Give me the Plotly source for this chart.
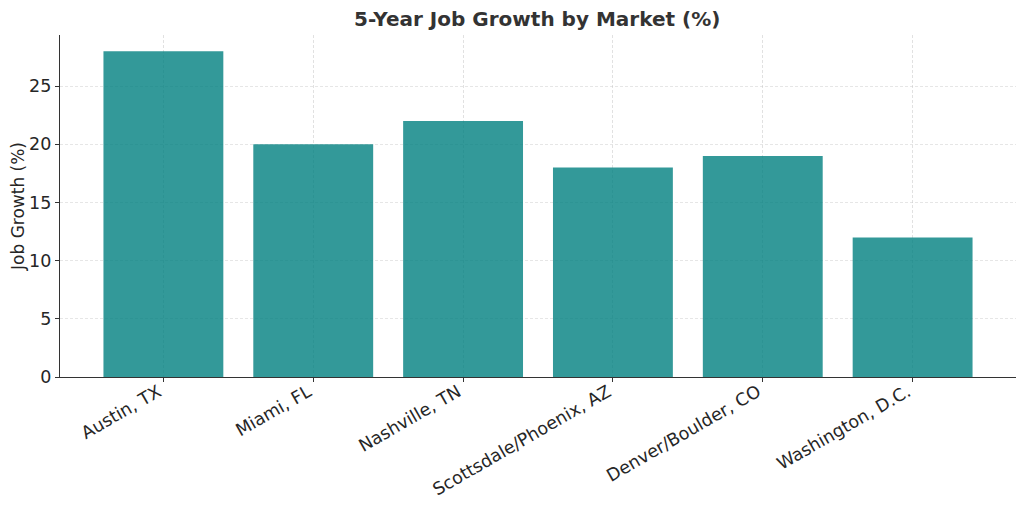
import plotly.graph_objects as go

markets = ["Austin, TX", "Miami, FL", "Nashville, TN", "Scottsdale/Phoenix, AZ",
           "Denver/Boulder, CO", "Washington, D.C."]
growth = [28, 20, 22, 18, 19, 12]
yticks = [0, 5, 10, 15, 20, 25]

fig = go.Figure(go.Bar(
    x=list(range(len(markets))), y=growth,
    marker=dict(color="rgba(0,128,128,0.8)", line=dict(width=0)),
    width=0.8,
))

font = "DejaVu Sans"
fig.update_layout(
    width=1008, height=491,
    margin=dict(l=52, r=0, t=27, b=122),
    paper_bgcolor="white", plot_bgcolor="white",
    title=dict(text="<b>5-Year Job Growth by Market (%)</b>", x=0.525, xanchor="center",
               y=0.978, yanchor="middle",
               font=dict(family=font, size=20, color="#333333")),
    font=dict(family=font, color="#333333"),
    showlegend=False,
)
fig.update_xaxes(
    range=[-0.69, 5.69], automargin=False,
    tickmode="array", tickvals=list(range(len(markets))), ticktext=markets,
    tickangle=-30, tickfont=dict(size=17.5, color="#262626"),
    ticklabelshift=-5, ticklabelstandoff=-7,
    ticks="outside", ticklen=4, tickcolor="#333333",
    showline=True, linecolor="#333333", linewidth=1.3,
    showgrid=True, gridcolor="rgba(200,200,200,0.55)", griddash="3px,2px", gridwidth=1,
    zeroline=False,
)
fig.update_yaxes(
    range=[0, 29.4], automargin=False,
    tickmode="array", tickvals=yticks, ticktext=[str(v) for v in yticks],
    tickfont=dict(size=17.5, color="#262626"),
    ticks="outside", ticklen=4, tickcolor="#333333",
    showline=True, linecolor="#333333", linewidth=1.3,
    showgrid=True, gridcolor="rgba(200,200,200,0.45)", griddash="3px,2px", gridwidth=1,
    zeroline=False,
    title=dict(text="Job Growth (%)", font=dict(size=17, color="#262626"), standoff=13),
)

fig.write_html("out.html")
